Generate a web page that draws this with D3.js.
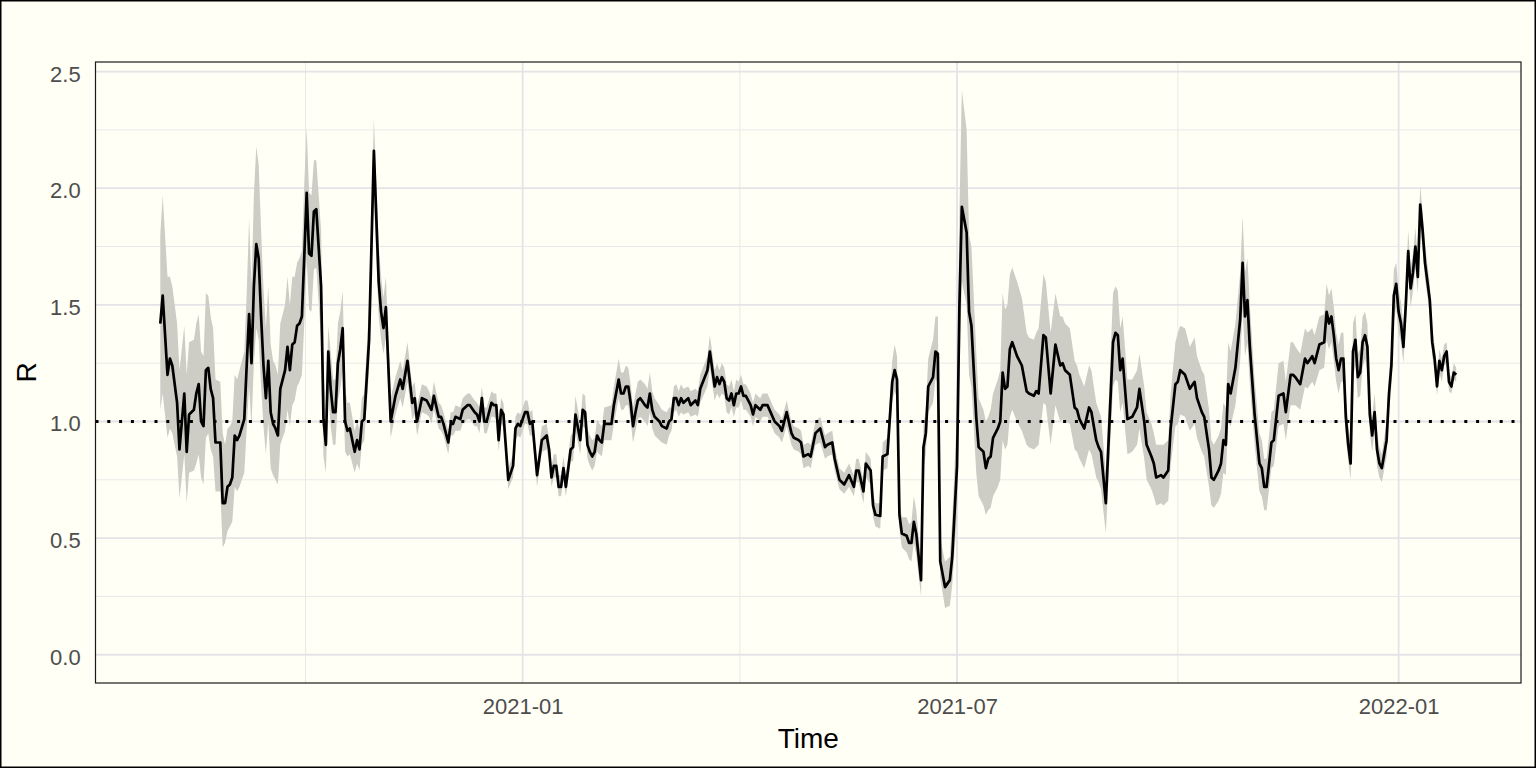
<!DOCTYPE html>
<html>
<head>
<meta charset="utf-8">
<script src="https://cdn.jsdelivr.net/npm/d3@7"></script>
<style>
  html, body { margin: 0; padding: 0; background: #fffff5; }
  svg { display: block; font-family: "Liberation Sans", Arial, Helvetica, sans-serif; }
</style>
</head>
<body>
<svg id="chart" width="1536" height="768"></svg>
<script>
// series start, values are read at the turning points of the curve (days after start)
var startDate = "2020-08-03";

var dayOffset = [
  0,1,3,4,5,7,8,10,11,12,14,15,16,17,18,19,20,21,22,23,25,26,27,28,29,30,31,32,33,35,36,37,38,39,40,41,42,43,44,45,46,47,48,49,50,52,53,54,55,56,57,58,59,60,61,62,63,64,65,67,68,69,70,71,72,73,74,75,76,77,78,79,81,82,83,84,85,87,89,91,92,93,94,96,98,100,101,103,105,
  106,107,109,111,112,113,114,116,117,118,120,121,122,123,125,126,128,129,131,132,133,134,135,136,138,139,140,141,142,143,145,147,148,149,150,152,153,154,155,157,159,161,162,163,164,165,166,167,168,169,171,172,173,175,176,177,178,179,180,181,182,183,184,185,188,189,191,192,193,194,195,196,197,198,199,200,202,203,204,205,206,208,209,211,212,
  213,214,215,216,217,218,220,221,223,224,225,228,229,231,232,233,234,235,236,237,238,239,240,241,242,243,244,246,247,248,250,251,253,256,258,259,261,263,264,266,267,268,270,271,273,275,277,278,280,281,283,285,287,289,290,291,293,294,296,297,298,300,301,303,305,306,307,308,309,311,312,313,314,315,317,318,319,320,322,323,324,
  325,327,329,330,332,333,334,336,337,338,340,341,343,344,345,346,347,349,350,351,352,353,354,355,357,359,361,362,364,365,366,368,369,371,373,375,376,377,379,381,382,383,385,387,388,390,391,392,394,397,398,399,400,401,403,405,407,408,410,411,413,414,415,417,418,420,421,423,424,425,427,429,431,
  432,434,435,437,438,439,441,442,443,444,445,446,448,450,451,452,453,454,456,458,459,460,461,463,464,466,468,469,471,472,473,475,477,478,480,481,483,485,486,487,488,489,490,491,492,493,494,495,496,497,498,499,500,501,502,503,504,505,506,507,508,509,511,512,513,514,515,516,517,518,519,520,521,522,523,524,525,526,527,529,530,531,532,533,534,535,536,537,538,539,540
];

var rMean = [
  1.42,1.54,1.20,1.27,1.24,1.08,0.88,1.12,0.87,1.03,1.05,1.12,1.16,1.00,0.98,1.22,1.23,1.14,1.10,0.91,0.91,0.65,0.65,0.72,0.73,0.76,0.94,0.92,0.94,1.01,1.24,1.46,1.25,1.58,1.76,1.70,1.45,1.24,1.10,1.26,1.04,0.99,0.97,0.94,1.14,1.22,1.32,1.22,1.33,1.34,1.41,1.42,1.45,1.71,1.98,1.72,1.71,1.90,1.91,1.58,1.01,0.90,1.30,1.14,1.04,1.04,1.25,1.31,1.40,1.00,0.96,0.97,0.87,0.92,0.88,1.00,1.01,1.35,2.16,1.60,1.47,1.40,1.49,1.00,1.11,1.18,1.14,1.26,1.08,
  1.10,1.00,1.10,1.09,1.07,1.05,1.11,1.02,1.02,0.99,0.91,0.99,0.99,1.02,1.01,1.05,1.07,1.07,1.04,1.03,1.00,1.10,1.00,1.00,1.08,1.07,1.07,0.92,1.05,1.03,0.75,0.81,0.97,0.99,0.98,1.04,1.04,0.99,1.00,0.77,0.92,0.94,0.88,0.76,0.81,0.81,0.72,0.72,0.80,0.72,0.88,0.89,1.03,0.92,1.05,1.04,0.90,0.87,0.85,0.87,0.94,0.92,0.91,0.99,0.99,1.07,1.18,1.12,1.12,1.15,1.15,1.08,0.98,1.04,1.09,1.10,1.07,1.06,1.12,1.05,1.02,1.00,0.98,0.97,1.00,
  1.01,1.10,1.10,1.07,1.10,1.08,1.10,1.07,1.09,1.07,1.14,1.22,1.30,1.15,1.19,1.16,1.19,1.17,1.10,1.09,1.12,1.07,1.12,1.12,1.15,1.11,1.11,1.07,1.03,1.07,1.05,1.07,1.07,1.00,0.98,0.96,1.04,0.95,0.93,0.92,0.91,0.85,0.86,0.85,0.95,0.97,0.89,0.90,0.91,0.84,0.75,0.73,0.77,0.72,0.79,0.79,0.70,0.82,0.79,0.64,0.60,0.595,0.85,0.86,1.17,1.22,1.18,0.60,0.52,0.51,0.48,0.48,0.57,0.52,0.32,0.89,0.95,1.15,1.19,1.30,1.29,
  0.40,0.29,0.32,0.42,0.81,1.50,1.92,1.81,1.47,1.41,1.02,0.89,0.87,0.80,0.84,0.85,0.93,0.97,1.00,1.21,1.14,1.15,1.31,1.34,1.28,1.24,1.13,1.12,1.11,1.13,1.12,1.37,1.36,1.12,1.33,1.24,1.25,1.22,1.20,1.06,1.05,1.01,0.97,1.06,1.04,0.92,0.89,0.87,0.65,1.34,1.38,1.37,1.22,1.27,1.01,1.02,1.06,1.14,1.00,0.90,0.85,0.82,0.76,0.77,0.76,0.79,0.97,1.16,1.17,1.22,1.20,1.14,1.17,
  1.10,1.04,1.02,0.88,0.76,0.75,0.79,0.82,0.92,0.90,1.16,1.12,1.23,1.44,1.68,1.45,1.52,1.32,1.03,0.82,0.80,0.72,0.72,0.91,0.92,1.11,1.12,1.04,1.20,1.20,1.19,1.16,1.27,1.25,1.28,1.25,1.33,1.34,1.47,1.42,1.45,1.37,1.27,1.22,1.27,1.27,1.02,0.90,0.82,1.30,1.35,1.19,1.21,1.34,1.37,1.32,1.03,0.94,1.04,0.88,0.82,0.80,0.92,1.12,1.24,1.54,1.59,1.47,1.42,1.32,1.50,1.73,1.57,1.64,1.75,1.62,1.93,1.82,1.68,1.52,1.34,1.27,1.15,1.26,1.22,1.28,1.30,1.17,1.15,1.21,1.20
];

var rLower = [
  1.05,1.12,0.93,0.97,0.95,0.85,0.67,0.86,0.65,0.78,0.79,0.82,0.86,0.76,0.73,0.93,0.95,0.88,0.85,0.70,0.70,0.46,0.48,0.53,0.55,0.57,0.72,0.70,0.72,0.78,0.97,1.15,0.98,1.25,1.40,1.35,1.15,0.98,0.86,1.00,0.80,0.77,0.75,0.73,0.90,0.96,1.05,0.98,1.07,1.09,1.15,1.17,1.20,1.42,1.70,1.48,1.47,1.65,1.66,1.35,0.85,0.78,1.12,0.98,0.90,0.90,1.09,1.14,1.22,0.87,0.85,0.86,0.78,0.82,0.79,0.90,0.92,1.22,1.97,1.45,1.35,1.29,1.36,0.93,1.03,1.10,1.06,1.17,1.01,
  1.03,0.94,1.04,1.03,1.02,0.99,1.05,0.97,0.96,0.94,0.86,0.94,0.94,0.96,0.96,0.99,1.01,1.01,0.98,0.98,0.95,1.04,0.95,0.95,1.02,1.02,1.01,0.87,0.99,0.98,0.71,0.76,0.92,0.94,0.93,0.99,0.99,0.94,0.94,0.72,0.87,0.88,0.83,0.72,0.76,0.76,0.68,0.68,0.75,0.68,0.83,0.83,0.96,0.86,0.98,0.97,0.84,0.81,0.79,0.81,0.87,0.86,0.85,0.92,0.92,0.99,1.10,1.05,1.05,1.07,1.07,1.00,0.91,0.96,1.01,1.02,1.00,0.98,1.04,0.97,0.94,0.92,0.91,0.90,0.94,
  0.96,1.04,1.05,1.02,1.04,1.03,1.04,1.02,1.03,1.02,1.08,1.15,1.23,1.09,1.12,1.10,1.12,1.11,1.04,1.03,1.06,1.02,1.06,1.06,1.09,1.05,1.05,1.02,0.98,1.02,1.00,1.02,1.02,0.95,0.93,0.91,0.98,0.90,0.88,0.87,0.86,0.80,0.81,0.80,0.90,0.91,0.84,0.85,0.86,0.79,0.71,0.69,0.72,0.68,0.74,0.74,0.65,0.76,0.73,0.59,0.55,0.54,0.79,0.80,1.09,1.13,1.10,0.54,0.46,0.44,0.41,0.40,0.48,0.43,0.25,0.80,0.86,1.04,1.08,1.18,1.17,
  0.33,0.20,0.21,0.30,0.60,1.20,1.60,1.50,1.20,1.15,0.78,0.68,0.64,0.60,0.62,0.63,0.68,0.72,0.75,0.92,0.88,0.90,1.02,1.05,1.00,0.96,0.90,0.89,0.88,0.89,0.90,1.08,1.07,0.90,1.07,1.00,1.01,1.00,0.99,0.88,0.87,0.84,0.80,0.88,0.86,0.76,0.74,0.71,0.52,1.15,1.18,1.17,1.04,1.08,0.86,0.87,0.90,0.97,0.84,0.75,0.71,0.68,0.64,0.65,0.64,0.66,0.81,0.98,0.99,1.03,1.02,0.96,0.99,
  0.93,0.87,0.85,0.72,0.64,0.63,0.66,0.69,0.78,0.77,1.00,0.98,1.07,1.26,1.48,1.28,1.34,1.16,0.90,0.70,0.68,0.62,0.62,0.80,0.81,0.98,0.99,0.92,1.07,1.07,1.07,1.05,1.15,1.14,1.17,1.15,1.22,1.23,1.35,1.31,1.34,1.26,1.17,1.12,1.17,1.17,0.94,0.83,0.75,1.19,1.24,1.10,1.11,1.23,1.27,1.22,0.95,0.87,0.96,0.81,0.76,0.74,0.85,1.04,1.15,1.43,1.49,1.38,1.34,1.25,1.42,1.64,1.49,1.56,1.66,1.55,1.84,1.74,1.61,1.46,1.28,1.22,1.11,1.21,1.17,1.24,1.25,1.13,1.12,1.18,1.17
];

var rUpper = [
  1.80,1.97,1.62,1.62,1.58,1.42,1.22,1.41,1.20,1.34,1.35,1.42,1.46,1.30,1.28,1.55,1.54,1.45,1.40,1.18,1.17,0.95,0.90,0.97,0.98,1.00,1.20,1.18,1.22,1.30,1.55,1.87,1.58,1.97,2.18,2.10,1.82,1.57,1.40,1.58,1.33,1.26,1.24,1.20,1.42,1.50,1.62,1.50,1.62,1.62,1.68,1.70,1.73,2.02,2.26,1.98,1.97,2.12,2.12,1.82,1.20,1.05,1.41,1.30,1.18,1.18,1.42,1.47,1.56,1.14,1.08,1.08,0.96,1.00,0.97,1.10,1.12,1.50,2.30,1.76,1.62,1.53,1.62,1.10,1.19,1.26,1.22,1.34,1.15,
  1.17,1.07,1.16,1.15,1.13,1.10,1.17,1.08,1.07,1.04,0.96,1.04,1.04,1.07,1.06,1.10,1.12,1.12,1.09,1.08,1.06,1.15,1.06,1.06,1.13,1.12,1.12,0.98,1.10,1.08,0.80,0.86,1.02,1.04,1.03,1.09,1.09,1.04,1.05,0.82,0.98,0.99,0.93,0.81,0.86,0.86,0.77,0.77,0.85,0.77,0.94,0.95,1.11,0.99,1.12,1.11,0.97,0.94,0.92,0.93,1.01,0.99,0.98,1.06,1.07,1.15,1.27,1.21,1.21,1.24,1.23,1.16,1.06,1.12,1.17,1.18,1.16,1.14,1.21,1.13,1.10,1.07,1.05,1.04,1.06,
  1.06,1.15,1.16,1.13,1.16,1.14,1.15,1.13,1.14,1.13,1.20,1.28,1.37,1.22,1.25,1.22,1.25,1.23,1.16,1.15,1.18,1.13,1.18,1.17,1.20,1.16,1.16,1.12,1.08,1.12,1.10,1.12,1.12,1.05,1.03,1.01,1.09,1.00,0.98,0.97,0.96,0.90,0.91,0.90,1.00,1.02,0.94,0.95,0.96,0.89,0.80,0.78,0.82,0.77,0.84,0.84,0.75,0.87,0.84,0.69,0.65,0.65,0.91,0.93,1.26,1.33,1.28,0.66,0.59,0.59,0.56,0.57,0.68,0.62,0.40,0.98,1.06,1.27,1.35,1.45,1.45,
  0.50,0.40,0.42,0.58,1.05,1.90,2.42,2.25,1.80,1.75,1.30,1.10,1.05,1.00,1.02,1.05,1.12,1.18,1.22,1.55,1.48,1.50,1.63,1.66,1.60,1.53,1.38,1.36,1.35,1.38,1.40,1.63,1.60,1.38,1.55,1.45,1.45,1.42,1.40,1.26,1.24,1.20,1.15,1.24,1.22,1.08,1.05,1.02,0.78,1.55,1.58,1.56,1.40,1.45,1.18,1.18,1.22,1.29,1.15,1.04,0.99,0.95,0.90,0.90,0.90,0.92,1.12,1.34,1.38,1.41,1.40,1.32,1.36,
  1.28,1.22,1.20,1.05,0.92,0.90,0.94,0.97,1.08,1.06,1.34,1.30,1.42,1.64,1.88,1.64,1.70,1.50,1.18,0.95,0.92,0.84,0.84,1.04,1.05,1.25,1.26,1.17,1.34,1.34,1.32,1.29,1.40,1.38,1.40,1.37,1.45,1.46,1.59,1.54,1.57,1.49,1.38,1.33,1.38,1.38,1.12,0.99,0.90,1.42,1.46,1.29,1.31,1.45,1.47,1.42,1.11,1.02,1.12,0.96,0.89,0.86,1.00,1.21,1.33,1.65,1.68,1.56,1.51,1.41,1.59,1.82,1.66,1.72,1.83,1.70,2.01,1.90,1.76,1.59,1.40,1.33,1.20,1.31,1.27,1.33,1.34,1.21,1.19,1.25,1.23
];

var yMajor = [0, 0.5, 1, 1.5, 2, 2.5];
var yMinor = [0.25, 0.75, 1.25, 1.75, 2.25];
var xMajor = ["2021-01-01", "2021-07-01", "2022-01-01"];
var xMajorLabels = ["2021-01", "2021-07", "2022-01"];
var xMinor = ["2020-10-02T12:00:00Z", "2021-04-01T12:00:00Z", "2021-10-01T00:00:00Z"];
var refLevel = 1;

var width = 1536, height = 768;
var panel = {left: 95.5, top: 62, right: 1521, bottom: 683};

var svg = d3.select("#chart");

var t0 = d3.utcParse("%Y-%m-%d")(startDate);
var data = dayOffset.map(function(d, i) {
  return {date: d3.utcDay.offset(t0, d), r: rMean[i], lo: rLower[i], hi: rUpper[i]};
});

// ggplot style 5% expansion on both scales
var xExt = d3.extent(data, function(d) { return d.date; });
var xPad = (xExt[1] - xExt[0]) * 0.05;
var x = d3.scaleUtc()
    .domain([new Date(+xExt[0] - xPad), new Date(+xExt[1] + xPad)])
    .range([panel.left, panel.right]);

var yLo = Math.min(0, d3.min(data, function(d) { return d.lo; }));
var yHi = d3.max(data, function(d) { return d.hi; });
var yPad = (yHi - yLo) * 0.05;
var y = d3.scaleLinear()
    .domain([yLo - yPad, yHi + yPad])
    .range([panel.bottom, panel.top]);

svg.append("rect")
    .attr("x", 0).attr("y", 0).attr("width", width).attr("height", height)
    .attr("fill", "#fffff5");

// grid
var grid = svg.append("g");
grid.selectAll(".ymin").data(yMinor).enter().append("line")
    .attr("x1", panel.left).attr("x2", panel.right)
    .attr("y1", function(d) { return y(d); }).attr("y2", function(d) { return y(d); })
    .attr("stroke", "#e6e6e8").attr("stroke-width", 0.9);
grid.selectAll(".xmin").data(xMinor).enter().append("line")
    .attr("y1", panel.top).attr("y2", panel.bottom)
    .attr("x1", function(d) { return x(d3.isoParse(d)); }).attr("x2", function(d) { return x(d3.isoParse(d)); })
    .attr("stroke", "#e6e6e8").attr("stroke-width", 0.9);
grid.selectAll(".ymaj").data(yMajor).enter().append("line")
    .attr("x1", panel.left).attr("x2", panel.right)
    .attr("y1", function(d) { return y(d); }).attr("y2", function(d) { return y(d); })
    .attr("stroke", "#e4e4e8").attr("stroke-width", 1.8);
grid.selectAll(".xmaj").data(xMajor).enter().append("line")
    .attr("y1", panel.top).attr("y2", panel.bottom)
    .attr("x1", function(d) { return x(d3.isoParse(d)); }).attr("x2", function(d) { return x(d3.isoParse(d)); })
    .attr("stroke", "#e4e4e8").attr("stroke-width", 1.8);

// ribbon
var area = d3.area()
    .x(function(d) { return x(d.date); })
    .y0(function(d) { return y(d.lo); })
    .y1(function(d) { return y(d.hi); });

svg.append("path")
    .datum(data)
    .attr("d", area)
    .attr("fill", "#cdcdc6");

// reference line at R = 1
svg.append("line")
    .attr("x1", panel.left).attr("x2", panel.right)
    .attr("y1", y(refLevel)).attr("y2", y(refLevel))
    .attr("stroke", "#000").attr("stroke-width", 2.8)
    .attr("stroke-dasharray", "3,8.8");

var line = d3.line()
    .x(function(d) { return x(d.date); })
    .y(function(d) { return y(d.r); });

svg.append("path")
    .datum(data)
    .attr("d", line)
    .attr("fill", "none")
    .attr("stroke", "#000")
    .attr("stroke-width", 2.7)
    .attr("stroke-linejoin", "round");

// panel border
svg.append("rect")
    .attr("x", panel.left).attr("y", panel.top)
    .attr("width", panel.right - panel.left).attr("height", panel.bottom - panel.top)
    .attr("fill", "none").attr("stroke", "#1a1a1a").attr("stroke-width", 1.2);

// axes (labels only)
var yAxis = svg.append("g")
    .attr("transform", "translate(" + panel.left + ",0)")
    .call(d3.axisLeft(y).tickValues(yMajor).tickFormat(d3.format(".1f")).tickSize(0).tickPadding(14.8));
yAxis.select(".domain").remove();
yAxis.selectAll("text")
    .attr("dy", "0.43em")
    .attr("fill", "#4d4d4d")
    .style("font-size", "22px")
    .style("font-family", "'Liberation Sans', Arial, Helvetica, sans-serif");

var xAxis = svg.append("g")
    .attr("transform", "translate(0," + panel.bottom + ")")
    .call(d3.axisBottom(x)
      .tickValues(xMajor.map(function(d) { return d3.isoParse(d); }))
      .tickFormat(function(d, i) { return xMajorLabels[i]; })
      .tickSize(0).tickPadding(14.9));
xAxis.select(".domain").remove();
xAxis.selectAll("text")
    .attr("fill", "#4d4d4d")
    .style("font-size", "22px")
    .style("font-family", "'Liberation Sans', Arial, Helvetica, sans-serif");

svg.append("text")
    .attr("x", (panel.left + panel.right) / 2)
    .attr("y", 748.3)
    .attr("text-anchor", "middle")
    .style("font-size", "28px")
    .attr("fill", "#000")
    .text("Time");

svg.append("text")
    .attr("transform", "translate(35.5," + ((panel.top + panel.bottom) / 2) + ") rotate(-90)")
    .attr("text-anchor", "middle")
    .style("font-size", "28px")
    .attr("fill", "#000")
    .text("R");

// outer frame
svg.append("rect")
    .attr("x", 0.75).attr("y", 0.75).attr("width", width - 1.5).attr("height", height - 1.5)
    .attr("fill", "none").attr("stroke", "#000").attr("stroke-width", 1.5);
</script>
</body>
</html>
